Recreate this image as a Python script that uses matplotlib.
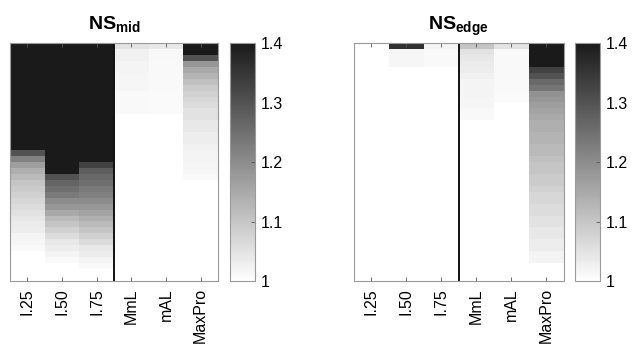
import matplotlib
matplotlib.use('Agg')
import matplotlib.pyplot as plt
import numpy as np
from matplotlib.colors import LinearSegmentedColormap

plt.rcParams['font.family'] = ['Liberation Sans', 'DejaVu Sans']
plt.rcParams['mathtext.fontset'] = 'custom'
plt.rcParams['mathtext.bf'] = 'Liberation Sans:bold'
plt.rcParams['mathtext.rm'] = 'Liberation Sans'

# column labels
methods = ['I.25', 'I.50', 'I.75', 'MmL', 'mAL', 'MaxPro']

# sorted values per column, top row first (40 rows), values above 1.4 are clipped to black
mid_i25 = [1.45] * 18 + [1.30, 1.22, 1.17, 1.14, 1.12, 1.10, 1.09, 1.08, 1.07, 1.06,
                         1.05, 1.04, 1.035, 1.03, 1.02, 1.015, 1.01] + [1.0] * 5
mid_i50 = [1.45] * 22 + [1.30, 1.27, 1.25, 1.23, 1.20, 1.18, 1.15, 1.12, 1.10, 1.08,
                         1.06, 1.04, 1.03, 1.02, 1.01] + [1.0] * 3
mid_i75 = [1.45] * 20 + [1.33, 1.28, 1.26, 1.25, 1.23, 1.22, 1.20, 1.18, 1.16, 1.14,
                         1.12, 1.10, 1.08, 1.06, 1.04, 1.03, 1.02, 1.01] + [1.0] * 2
mid_mml = [1.05, 1.025, 1.025, 1.02, 1.02, 1.015, 1.015, 1.015, 1.01, 1.01, 1.01, 1.01] + [1.0] * 28
mid_mal = [1.04, 1.012, 1.012, 1.01, 1.01, 1.01, 1.01, 1.01, 1.008, 1.008, 1.008, 1.008] + [1.0] * 28
mid_maxpro = [1.45, 1.45, 1.30, 1.18, 1.15, 1.13, 1.11, 1.09, 1.08, 1.07,
              1.06, 1.05, 1.05, 1.04, 1.04, 1.03, 1.03, 1.025, 1.02, 1.02,
              1.015, 1.015, 1.01] + [1.0] * 17

edge_i25 = [1.0] * 40
edge_i50 = [1.36, 1.015, 1.015, 1.015] + [1.0] * 36
edge_i75 = [1.02, 1.01, 1.01, 1.01] + [1.0] * 36
edge_mml = [1.10, 1.05, 1.04, 1.035, 1.03, 1.025, 1.02, 1.02, 1.02, 1.015, 1.015, 1.01, 1.01] + [1.0] * 27
edge_mal = [1.05, 1.01, 1.01, 1.01, 1.01, 1.01, 1.01, 1.01, 1.008, 1.008] + [1.0] * 30
edge_maxpro = [1.45, 1.45, 1.45, 1.45, 1.33, 1.30, 1.26, 1.24, 1.19, 1.18,
               1.17, 1.16, 1.15, 1.14, 1.14, 1.13, 1.13, 1.12, 1.12, 1.11,
               1.10, 1.10, 1.09, 1.09, 1.08, 1.07, 1.07, 1.06, 1.06, 1.05,
               1.05, 1.04, 1.04, 1.03, 1.03, 1.02, 1.02] + [1.0] * 3

panels = [
    ('mid', [mid_i25, mid_i50, mid_i75, mid_mml, mid_mal, mid_maxpro]),
    ('edge', [edge_i25, edge_i50, edge_i75, edge_mml, edge_mal, edge_maxpro]),
]

cmap = LinearSegmentedColormap.from_list('wk', ['#ffffff', '#1a1a1a'])
frame = '#9a9a9a'

fig = plt.figure(figsize=(6.32, 3.54), dpi=100)
ax_pos = [[0.016, 0.206, 0.329, 0.672], [0.560, 0.206, 0.332, 0.672]]
cb_pos = [[0.364, 0.206, 0.040, 0.672], [0.910, 0.206, 0.040, 0.672]]

for k, (name, cols) in enumerate(panels):
    ax = fig.add_axes(ax_pos[k])
    data = np.array(cols).T
    nrows = data.shape[0]
    im = ax.imshow(data, cmap=cmap, vmin=1.0, vmax=1.4, aspect='auto',
                   interpolation='nearest', extent=[0.5, 6.5, nrows, 0])
    ax.axvline(3.5, color='#111111', lw=1.4)
    ax.set_xticks(np.arange(1, 7))
    ax.set_xticklabels(methods, rotation=90, fontsize=11.5)
    ax.set_yticks([])
    ax.tick_params(axis='x', direction='in', length=3, width=0.6, color='#555555',
                   top=True, pad=5)
    for s in ax.spines.values():
        s.set_color(frame)
        s.set_linewidth(0.8)
    ax.set_title(r'$\mathbf{NS}_{\mathbf{%s}}$' % name, fontsize=14, pad=9.5)

    cax = fig.add_axes(cb_pos[k])
    cb = fig.colorbar(im, cax=cax, ticks=[1.0, 1.1, 1.2, 1.3, 1.4])
    cb.ax.set_yticklabels(['1', '1.1', '1.2', '1.3', '1.4'])
    cb.ax.tick_params(direction='in', length=3, width=0.6, color='#555555',
                      labelsize=11.5, pad=4)
    cb.outline.set_edgecolor(frame)
    cb.outline.set_linewidth(0.8)

fig.savefig('out.png', dpi=100)
